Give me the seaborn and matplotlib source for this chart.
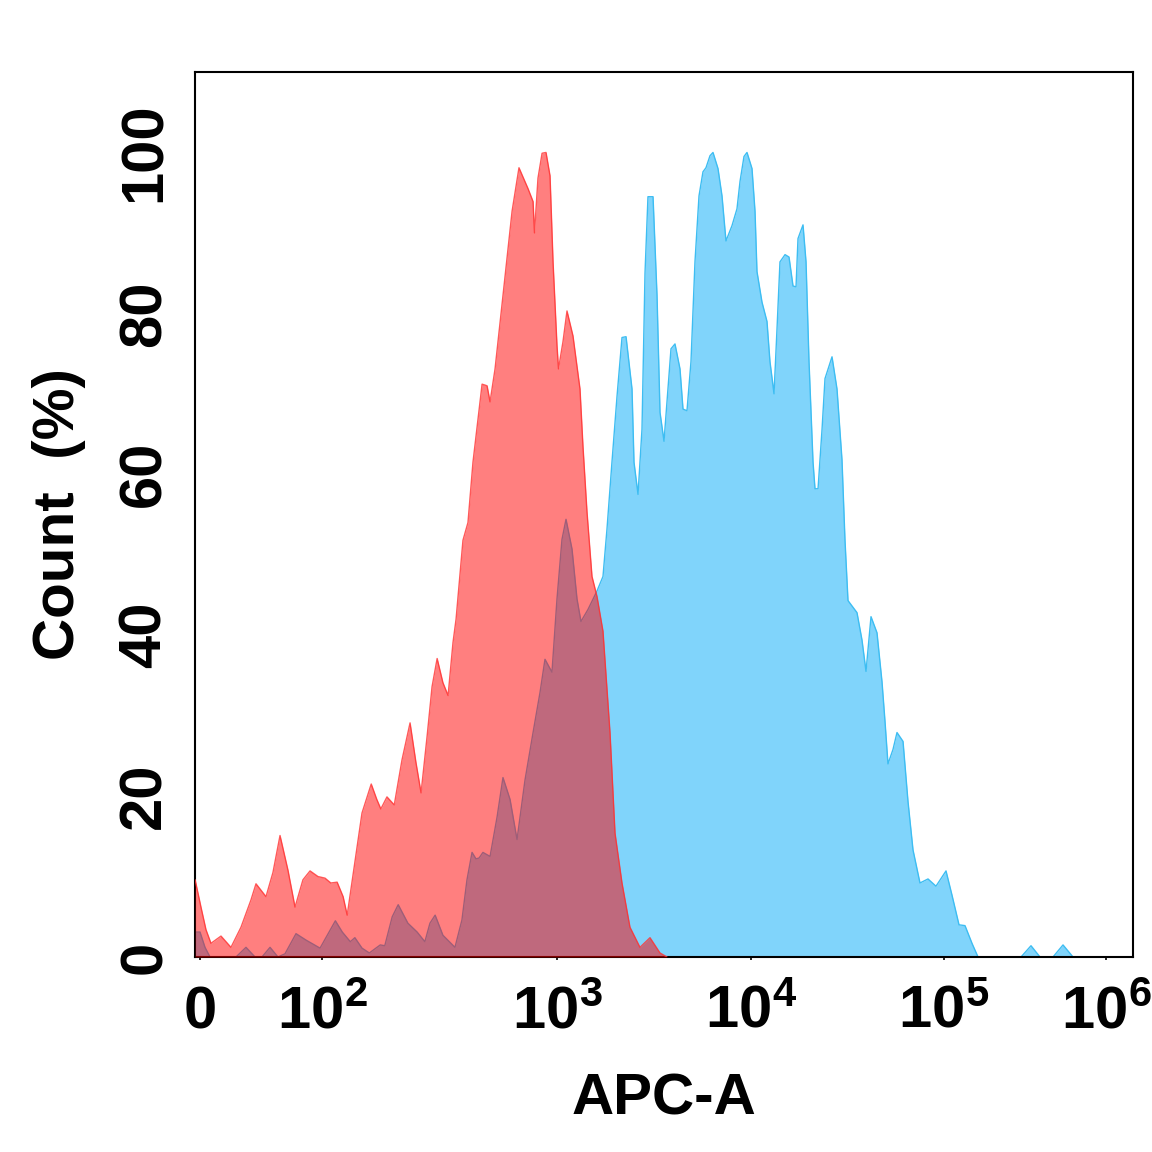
import numpy as np
import pandas as pd
import matplotlib
matplotlib.use("Agg")
import matplotlib.pyplot as plt
import seaborn as sns

# ---------------- data (APC-A value, % of max count) ----------------
red_x = [-4, 0.8, 4.9, 9.0, 17.2, 25.4, 33.6, 41.8, 45.9, 54.1, 59.8, 65.6, 72.1, 77.9,
         84.4, 90.2, 96.7, 103, 109, 116, 123, 128, 136, 148, 162, 171, 178, 189, 203,
         219, 237, 251, 264, 280, 294, 309, 327, 344, 361, 372, 398, 418, 439, 480, 504,
         519, 545, 589, 644, 689, 753, 791, 802, 830, 864, 898, 934, 962, 1000, 1018,
         1074, 1126, 1209, 1314, 1361, 1428, 1515, 1608, 1726, 1876, 1991, 2163, 2378,
         2678, 3016, 3396, 3690]
red_y = [9.6, 6.2, 3.4, 1.7, 2.6, 1.2, 3.7, 7.1, 9.1, 7.5, 10.5, 15.1, 10.8, 6.2,
         9.6, 10.7, 10.0, 9.8, 9.2, 9.3, 7.5, 5.2, 10.5, 17.9, 21.5, 19.6, 18.4, 19.9, 18.9,
         24.5, 29.1, 24.2, 20.4, 27.4, 33.6, 37.1, 34.1, 32.5, 39.1, 42.0, 51.8, 54.0, 61.5,
         71.2, 71.0, 69.0, 73.1, 82.2, 92.7, 98.1, 95.5, 93.9, 90.0, 96.8, 99.9, 100, 97.1,
         86.4, 76.0, 73.1, 76.5, 80.3, 77.2, 70.6, 63.5, 55.3, 47.3, 44.8, 40.5, 27.9, 15.4,
         9.2, 3.7, 1.2, 2.4, 0.5, 0]

blue_x = [-4, 0, 4.1, 8.2, 29.5, 37.7, 45.1, 50.8, 57.4, 63.9,
          69.7, 78.7, 86.9, 98.4, 114, 122, 132, 138, 148, 159,
          177, 185, 199, 211, 232, 254, 274, 288, 303, 327,
          368, 394, 414, 435, 452, 466, 484, 519, 556, 589,
          631, 676, 731, 791, 847, 889, 952, 1000, 1061, 1113,
          1195, 1268, 1329, 1445, 1608, 1726, 1810, 1920, 2039, 2163,
          2269, 2436, 2494, 2616, 2742, 2842, 2944, 3126, 3278, 3396,
          3561, 3690, 3869, 4057, 4305, 4462, 4678, 4905, 5143, 5395,
          5656, 5861, 6148, 6370, 6759, 7088, 7431, 7980, 8468, 8778,
          9202, 9537, 10120, 10490, 10740, 11400, 12100, 12540, 13160, 13640,
          14130, 15010, 15740, 16510, 17110, 17520, 18600, 19280, 19980, 20960,
          21460, 22250, 23340, 24180, 26290, 27900, 29610, 30690, 31810, 35420,
          37590, 39440, 41860, 44960, 47730, 49460, 51260, 54420, 57080, 61330,
          65100, 69100, 75090, 82630, 90880, 102900, 112000, 123800, 134800, 148900,
          162200, 298800, 344400, 391400, 470800, 542800, 625700]
blue_y = [3.1, 3.1, 1.2, 0, 0, 1.2, 0, 0, 1.2, 0,
          0.4, 2.9, 2.1, 1.1, 4.5, 3.1, 1.9, 2.4, 1.1, 0.5,
          1.5, 1.4, 5.0, 6.5, 4.2, 3.1, 1.9, 4.2, 5.2, 2.7,
          1.2, 4.6, 9.6, 13.0, 12.2, 12.3, 13.0, 12.5, 17.4, 22.3,
          19.6, 14.6, 22.0, 27.9, 32.9, 37.0, 35.4, 44.5, 51.9, 54.4,
          50.7, 44.5, 41.7, 43.2, 45.5, 47.3, 53.2, 61.5, 69.7, 77.0,
          77.1, 70.6, 61.5, 57.5, 65.6, 85.0, 94.5, 94.5, 82.2, 67.7,
          64.1, 69.0, 75.6, 76.2, 73.1, 68.1, 67.9, 74.0, 86.4, 94.6,
          97.6, 98.1, 99.6, 100, 98.0, 94.6, 89.0, 90.9, 93.0, 96.4,
          99.5, 100, 98.0, 92.7, 85.2, 81.4, 79.0, 74.0, 70.0, 78.1,
          86.4, 87.3, 87.0, 83.4, 83.3, 89.3, 91.0, 86.4, 74.0, 61.5,
          58.2, 58.2, 65.6, 71.9, 74.6, 70.6, 61.8, 51.8, 44.3, 42.8,
          39.4, 35.5, 42.3, 40.3, 34.2, 29.3, 24.0, 25.8, 27.9, 26.8,
          19.3, 13.3, 9.2, 9.7, 8.8, 10.7, 7.7, 4.0, 3.9, 1.7,
          0, 0, 1.4, 0, 0, 1.5, 0]

x_tick_values = [0, 1e2, 1e3, 1e4, 1e5, 1e6]
x_tick_labels = ["0", r"$\mathregular{10^{2}}$", r"$\mathregular{10^{3}}$",
                 r"$\mathregular{10^{4}}$", r"$\mathregular{10^{5}}$", r"$\mathregular{10^{6}}$"]
y_tick_values = [0, 20, 40, 60, 80, 100]
y_tick_labels = ["0", "20", "40", "60", "80", "100"]

# ---------------- display scale (biexponential-like axis) ----------------
LIN_TOP = 100.0
LIN_U = 122.0
DEC_LOG = np.array([2.0, 3.0, 4.0, 5.0, 6.0])
DEC_U = np.array([122.0, 357.0, 551.0, 744.0, 906.0])


def fwd(v):
    v = np.asarray(v, dtype=float)
    with np.errstate(divide="ignore", invalid="ignore"):
        lg = np.log10(np.maximum(v, 1e-9))
    hi = np.interp(lg, DEC_LOG, DEC_U)
    hi = np.where(lg > DEC_LOG[-1], DEC_U[-1] + (lg - DEC_LOG[-1]) * (DEC_U[-1] - DEC_U[-2]), hi)
    return np.where(v <= LIN_TOP, v * LIN_U / LIN_TOP, hi)


def inv(u):
    u = np.asarray(u, dtype=float)
    lg = np.interp(u, DEC_U, DEC_LOG)
    lg = np.where(u > DEC_U[-1], DEC_LOG[-1] + (u - DEC_U[-1]) / (DEC_U[-1] - DEC_U[-2]), lg)
    with np.errstate(over="ignore"):
        hi = 10.0 ** lg
    return np.where(u <= LIN_U, u * LIN_TOP / LIN_U, hi)


# ---------------- styling ----------------
sns.set_theme(style="white")
plt.rcParams["font.family"] = ["Liberation Sans", "DejaVu Sans"]
plt.rcParams["font.weight"] = "bold"
plt.rcParams["text.color"] = "black"
plt.rcParams["axes.labelcolor"] = "black"
plt.rcParams["xtick.color"] = "black"
plt.rcParams["ytick.color"] = "black"
plt.rcParams["mathtext.fontset"] = "custom"
plt.rcParams["mathtext.rm"] = "Liberation Sans:bold"
plt.rcParams["mathtext.bf"] = "Liberation Sans:bold"
plt.rcParams["mathtext.default"] = "regular"

fig = plt.figure(figsize=(11.52, 11.52), dpi=100)
ax = fig.add_axes([195 / 1152, 1 - 957 / 1152, (1133 - 195) / 1152, (957 - 72) / 1152])
ax.set_xscale("function", functions=(fwd, inv))

red_df = pd.DataFrame({"APC-A": red_x, "Count": red_y})
blue_df = pd.DataFrame({"APC-A": blue_x, "Count": blue_y})

blue_fill = "#80D4FB"
ax.fill_between(blue_df["APC-A"], 0, blue_df["Count"], color=blue_fill, lw=0, zorder=1)
sns.lineplot(data=blue_df, x="APC-A", y="Count", ax=ax, color="#3DBDF2", lw=1.0,
             sort=False, estimator=None, zorder=2)

ax.fill_between(red_df["APC-A"], 0, red_df["Count"], color="#FF0000", alpha=0.5, lw=0, zorder=3)
sns.lineplot(data=red_df, x="APC-A", y="Count", ax=ax, color="#FF3030", lw=1.0, alpha=0.8,
             sort=False, estimator=None, zorder=4)

ax.set_xlim(inv(-5.0), inv(933.0))
ax.set_ylim(0, 110)

ax.set_xticks(x_tick_values)
ax.set_xticklabels(x_tick_labels)
ax.set_yticks(y_tick_values)
ax.set_yticklabels(y_tick_labels, rotation=90, va="center")
ax.xaxis.set_minor_locator(matplotlib.ticker.NullLocator())

ax.tick_params(axis="x", direction="out", length=2.5, width=1.2, color="black",
               labelcolor="black", pad=49, labelsize=43, bottom=True)
ax.tick_params(axis="y", length=0, pad=16, labelsize=43, left=True, labelcolor="black")
for lbl in ax.get_xticklabels():
    lbl.set_va("baseline")
    lbl.set_fontweight("bold")
    lbl.set_color("black")
for lbl in ax.get_yticklabels():
    lbl.set_fontweight("bold")
    lbl.set_color("black")

for s in ax.spines.values():
    s.set_visible(True)
    s.set_color("black")
    s.set_linewidth(1.5)

ax.set_xlabel("APC-A", fontsize=42, fontweight="bold", color="black")
ax.set_ylabel("Count  (%)", fontsize=42, fontweight="bold", color="black")
ax.xaxis.set_label_coords(0.5, -0.1305)
ax.yaxis.set_label_coords(-0.116, 0.5)

fig.savefig("out.png", dpi=100, facecolor="white")
